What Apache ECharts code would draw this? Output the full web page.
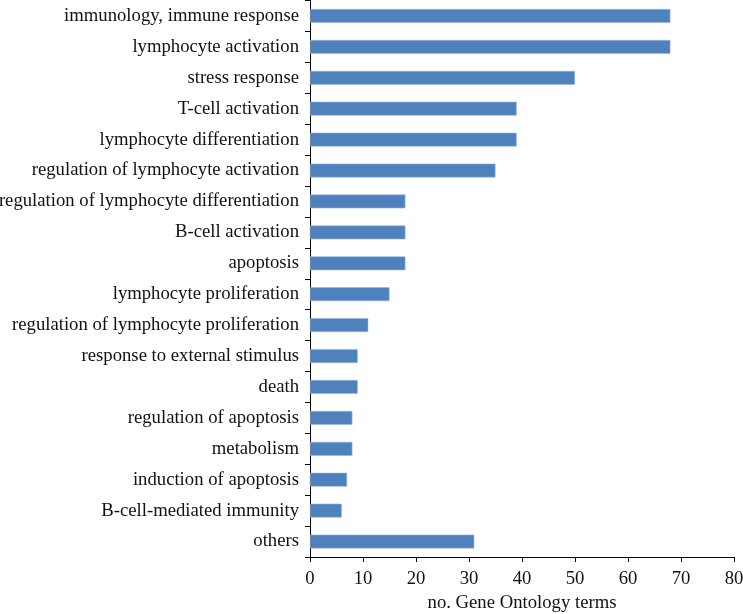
<!DOCTYPE html>
<html>
<head>
<meta charset="utf-8">
<script src="https://cdn.jsdelivr.net/npm/echarts@6/dist/echarts.min.js"></script>
<style>
  html, body { margin: 0; padding: 0; background: #fff; }
  #main { width: 743px; height: 614px; }
</style>
</head>
<body>
<div id="main"></div>
<script>
// GO term categories, top to bottom
var categories = [
  'immunology, immune response',
  'lymphocyte activation',
  'stress response',
  'T-cell activation',
  'lymphocyte differentiation',
  'regulation of lymphocyte activation',
  'regulation of lymphocyte differentiation',
  'B-cell activation',
  'apoptosis',
  'lymphocyte proliferation',
  'regulation of lymphocyte proliferation',
  'response to external stimulus',
  'death',
  'regulation of apoptosis',
  'metabolism',
  'induction of apoptosis',
  'B-cell-mediated immunity',
  'others'
];
var counts = [68, 68, 50, 39, 39, 35, 18, 18, 18, 15, 11, 9, 9, 8, 8, 7, 6, 31];
var xTicks = [0, 80, 10]; // min, max, interval

var font = 'Liberation Serif';
var myChart = echarts.init(document.getElementById('main'));
var option = {
  animation: false,
  grid: { left: 310, right: 9, top: 0.5, bottom: 57, containLabel: false, outerBoundsMode: 'none' },
  xAxis: {
    type: 'value',
    min: xTicks[0],
    max: xTicks[1],
    interval: xTicks[2],
    name: 'no. Gene Ontology terms',
    nameLocation: 'middle',
    nameGap: 37,
    nameTextStyle: { fontFamily: font, fontSize: 18.7, color: '#111' },
    axisLine: { show: true, lineStyle: { color: '#000', width: 1 } },
    axisTick: { show: true, length: 5, lineStyle: { color: '#000' } },
    axisLabel: { fontFamily: font, fontSize: 18.7, color: '#111', margin: 13 },
    splitLine: { show: false }
  },
  yAxis: {
    type: 'category',
    data: categories,
    inverse: true,
    axisLine: { show: true, lineStyle: { color: '#000', width: 1 } },
    axisTick: { show: true, length: 5, alignWithLabel: false, lineStyle: { color: '#000' } },
    axisLabel: { fontFamily: font, fontSize: 18.7, color: '#111', margin: 11 }
  },
  series: [{
    type: 'bar',
    data: counts,
    barCategoryGap: '55%',
    itemStyle: { color: '#4F81BD', borderColor: '#9DB9DD', borderWidth: 0.6 }
  }]
};
myChart.setOption(option);
</script>
</body>
</html>
